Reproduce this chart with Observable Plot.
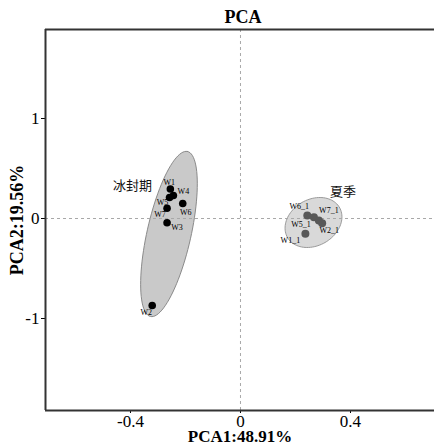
<!DOCTYPE html>
<html>
<head>
<meta charset="utf-8">
<script src="https://cdn.jsdelivr.net/npm/d3@7"></script>
<script src="https://cdn.jsdelivr.net/npm/@observablehq/plot@0.6"></script>
<style>
  html, body { margin: 0; padding: 0; background: #fff; }
  #chart svg { display: block; }
</style>
</head>
<body>
<div id="chart"></div>
<script>
// Sample scores on the first two principal components
const sampleNames = ["W1", "W4", "W5", "W7", "W6", "W3", "W2",
                     "W6_1", "W5_1", "W7_1", "W2_1", "W1_1"];
const sampleGroup = ["冰封期", "冰封期", "冰封期", "冰封期", "冰封期", "冰封期", "冰封期",
                     "夏季", "夏季", "夏季", "夏季", "夏季"];
const pc1 = [-0.255, -0.244, -0.258, -0.267, -0.210, -0.267, -0.321,
              0.243,  0.267,  0.285,  0.297,  0.236];
const pc2 = [ 0.295,  0.230,  0.210,  0.103,  0.150, -0.043, -0.870,
              0.030,  0.013, -0.020, -0.047, -0.153];

// Group names and their label anchors
const groups = ["冰封期", "夏季"];
const groupLabelX = [-0.393, 0.373];
const groupLabelY = [0.33, 0.27];

// Confidence ellipses: centre plus the two semi-axis vectors (PC units)
const ellipseCX = [-0.26, 0.2655];
const ellipseCY = [-0.155, -0.04];
const ellipseMajor = [[0.0673, 0.825], [0.0945, 0.15]];
const ellipseMinor = [[0.078, -0.048], [0.042, -0.20]];

// Axes
const xTicks = [-0.4, 0, 0.4];
const yTicks = [-1, 0, 1];
const xDomain = [-0.709, 0.7055];
const yDomain = [-1.92, 1.89];
const xTitle = "PCA1:48.91%";
const yTitle = "PCA2:19.56%";
const chartTitle = "PCA";

const samples = sampleNames.map((name, i) => ({
  name, group: sampleGroup[i], x: pc1[i], y: pc2[i]
}));

const ring = d3.range(0, 97).map(i => (i / 96) * 2 * Math.PI);
const ellipsePoints = groups.map((g, k) => ring.map(t => ({
  group: g,
  x: ellipseCX[k] + Math.cos(t) * ellipseMajor[k][0] + Math.sin(t) * ellipseMinor[k][0],
  y: ellipseCY[k] + Math.cos(t) * ellipseMajor[k][1] + Math.sin(t) * ellipseMinor[k][1]
})));

const groupStyle = {
  "冰封期": {ellipseFill: "#c9c9c9", ellipseStroke: "#8a8a8a", dot: "#000000", r: 3.8},
  "夏季":   {ellipseFill: "#d9d9d9", ellipseStroke: "#9a9a9a", dot: "#585858", r: 4}
};

// Label nudges in pixels, keyed by sample name
const labelNudge = {
  "W1": [-1, -7], "W4": [10, -4], "W5": [-7, 5], "W7": [-7, 6],
  "W6": [3, 9], "W3": [10, 5], "W2": [-6, 7],
  "W6_1": [-8, -9], "W7_1": [10, -10], "W5_1": [-13, 7],
  "W2_1": [7, 7], "W1_1": [-15, 7]
};

const fmt = d => String(d);
const serif = "'Liberation Serif', 'DejaVu Serif', serif";

const marks = [
  ...groups.map((g, k) => Plot.line(ellipsePoints[k], {
    x: "x", y: "y", curve: "linear-closed",
    fill: groupStyle[g].ellipseFill, stroke: groupStyle[g].ellipseStroke, strokeWidth: 1
  })),
  Plot.ruleX([0], {stroke: "#a8a8a8", strokeDasharray: "3,3", strokeWidth: 1}),
  Plot.ruleY([0], {stroke: "#a8a8a8", strokeDasharray: "3,3", strokeWidth: 1}),
  Plot.ruleX([xDomain[0]], {stroke: "#333", strokeWidth: 2}),
  Plot.ruleY([yDomain[0], yDomain[1]], {stroke: "#333", strokeWidth: 2}),
  ...groups.map(g => Plot.dot(samples.filter(d => d.group === g), {
    x: "x", y: "y", r: groupStyle[g].r, fill: groupStyle[g].dot
  })),
  ...samples.map(d => Plot.text([d], {
    x: "x", y: "y", text: "name",
    dx: labelNudge[d.name][0], dy: labelNudge[d.name][1],
    fontSize: 8, fill: "#000"
  })),
  Plot.text(groups, {
    x: (d, i) => groupLabelX[i], y: (d, i) => groupLabelY[i], text: d => d,
    fontSize: 13, fill: "#111", fontFamily: "'Noto Sans CJK SC', sans-serif"
  }),
  Plot.text([chartTitle], {
    frameAnchor: "top", lineAnchor: "middle", textAnchor: "middle", dy: -12, dx: 3, text: d => d,
    fontSize: 18, fontWeight: "bold", fill: "#000"
  }),
  Plot.text([xTitle], {
    frameAnchor: "bottom", lineAnchor: "middle", textAnchor: "middle", dy: 26, text: d => d,
    fontSize: 17, fontWeight: "bold", fill: "#000"
  }),
  Plot.text([yTitle], {
    frameAnchor: "left", lineAnchor: "middle", textAnchor: "middle", dx: -28, rotate: -90, text: d => d,
    fontSize: 18, fontWeight: "bold", fill: "#000"
  })
];

const chart = Plot.plot({
  width: 434,
  height: 446,
  marginLeft: 45,
  marginRight: 0,
  marginTop: 29,
  marginBottom: 36,
  style: {fontFamily: serif, fontSize: "17px", color: "#000", background: "#fff"},
  x: {domain: xDomain, ticks: xTicks, tickFormat: fmt, tickSize: 3, tickPadding: 1, label: null},
  y: {domain: yDomain, ticks: yTicks, tickFormat: fmt, tickSize: 4, tickPadding: 2, label: null},
  marks
});

document.getElementById("chart").appendChild(chart);
</script>
</body>
</html>
